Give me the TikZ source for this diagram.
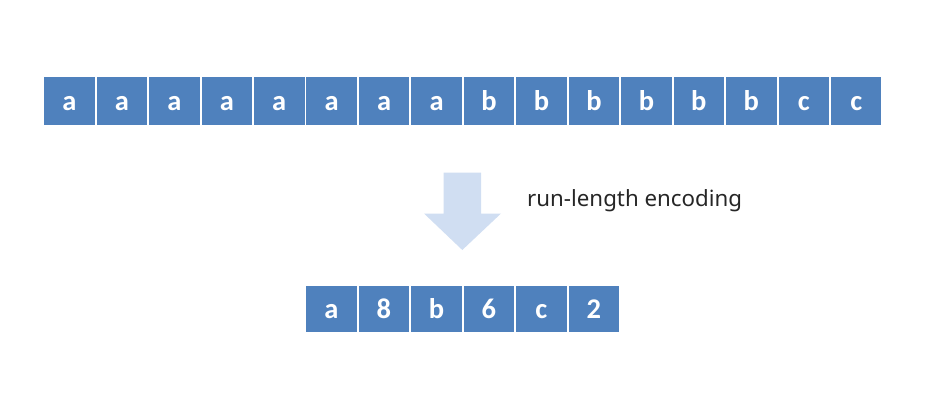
\documentclass[tikz,border=0pt]{standalone}
\usepackage{fontspec}
\setmainfont{Noto Sans}
\newfontfamily\boxfont{Carlito}
\definecolor{boxblue}{HTML}{4F81BD}
\definecolor{arrowblue}{HTML}{D0DEF2}
\definecolor{labelgray}{HTML}{262626}
\begin{document}
\begin{tikzpicture}[x=1pt,y=-1pt,
  cell/.style={fill=boxblue, draw=none, minimum width=50.5pt, minimum height=47.5pt,
    text height=33.5pt, text depth=14pt,
    inner sep=0pt, anchor=north west, text=white, font=\boxfont\bfseries\fontsize{28.5}{28.5}\selectfont},
  lowcell/.style={cell, minimum height=45.5pt, text height=32pt, text depth=13.5pt},
  lbl/.style={text=labelgray, font=\fontsize{22.3}{24}\selectfont, inner sep=0pt, anchor=base west}]
\useasboundingbox (0,0) rectangle (928,407);
\foreach \c [count=\i from 0] in {a,a,a,a,a,a,a,a,b,b,b,b,b,b,c,c}{
  \node[cell] (t\i) at ({44+52.45*\i},77) {\c};
}
\foreach \c [count=\i from 0] in {a,8,b,6,c,2}{
  \node[lowcell] (b\i) at ({306+52.5*\i},286) {\c};
}
\fill[arrowblue] (443.5,172.5) -- (481,172.5) -- (481,213.5) -- (501,213.5) -- (462.3,250)
  -- (424,213.5) -- (443.5,213.5) -- cycle;
\node[lbl] (rle) at (527,206.5) {run-length encoding};
\end{tikzpicture}
\end{document}
